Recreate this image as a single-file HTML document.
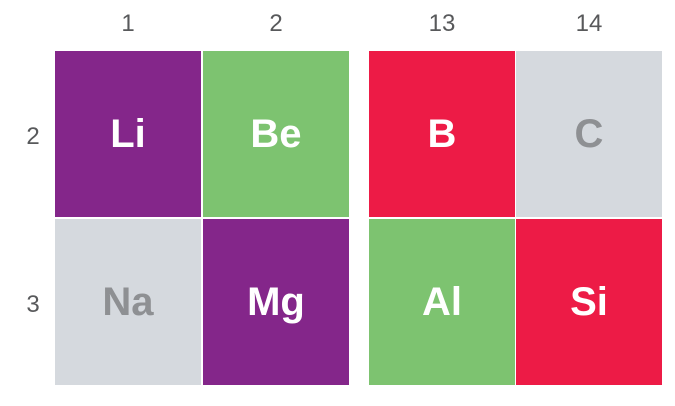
<!DOCTYPE html>
<html><head><meta charset="utf-8">
<style>
html,body{margin:0;padding:0;background:#fff;}
body{width:675px;height:406px;position:relative;overflow:hidden;font-family:"Liberation Sans",sans-serif;}
.cell{position:absolute;display:flex;align-items:center;justify-content:center;font-weight:bold;font-size:40px;}
.lab{position:absolute;color:#58595b;font-size:24px;text-align:center;}
</style></head>
<body>
<script>
const groups=["1","2","13","14"];
const periods=["2","3"];
const symbols=[["Li","Be","B","C"],["Na","Mg","Al","Si"]];
const kinds=[["metal","alkaline","boron","nonmetal"],["nonmetal","metal","alkaline","boron"]];
const colX=[55,203,369,516];
const colW=146, rowY=[51,219], rowH=166;
const fills={metal:"#84268a",alkaline:"#7dc370",boron:"#ed1b46",nonmetal:"#d5d9de"};
const textC={metal:"#fff",alkaline:"#fff",boron:"#fff",nonmetal:"#8e9093"};
groups.forEach((g,i)=>{
  const d=document.createElement('div');d.className='lab';
  d.style.left=colX[i]+'px';d.style.width=colW+'px';d.style.top='10px';d.textContent=g;
  
  
  document.body.appendChild(d);
});
periods.forEach((p,r)=>{
  const d=document.createElement('div');d.className='lab';
  d.style.left='18px';d.style.width='30px';d.style.top=(rowY[r]+rowH/2-11)+'px';d.textContent=p;
  
  
  document.body.appendChild(d);
  symbols[r].forEach((s,c)=>{
    const e=document.createElement('div');e.className='cell';
    e.style.left=colX[c]+'px';e.style.top=rowY[r]+'px';
    e.style.width=colW+'px';e.style.height=rowH+'px';
    e.style.background=fills[kinds[r][c]];e.style.color=textC[kinds[r][c]];
    e.textContent=s;
    
    
    document.body.appendChild(e);
  });
});
</script>
</body></html>
